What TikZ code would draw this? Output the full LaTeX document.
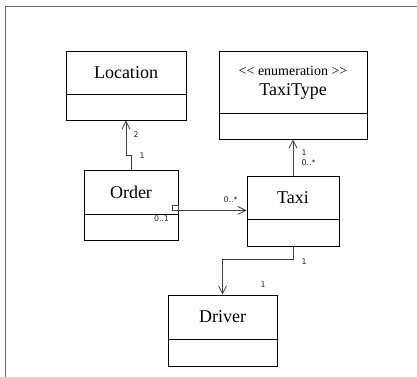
\documentclass[tikz,border=0pt]{standalone}
\usepackage{fontspec}
\setmainfont{Liberation Serif}
\newfontfamily\lblfont{DejaVu Sans}
\usetikzlibrary{arrows.meta}
\begin{document}
\begin{tikzpicture}[x=1pt,y=-1pt,
  cls/.style={draw=black, line width=0.8pt, inner sep=0pt},
  divider/.style={draw=black, line width=0.8pt},
  title/.style={font=\fontsize{18}{20}\selectfont, inner sep=0pt},
  stereo/.style={font=\fontsize{14}{16}\selectfont, inner sep=0pt},
  assoc/.style={draw=black!75, line width=0.8pt, -{Straight Barb[length=8pt,width=8pt]}},
  mult/.style={font=\lblfont\fontsize{7.8}{8}\selectfont, text=black!85, inner sep=1pt},
  qualbox/.style={draw=black!75, line width=0.8pt, fill=white, minimum width=6pt, minimum height=5pt, inner sep=0pt},
  framebox/.style={draw=black!60, line width=1.5pt}
]
\useasboundingbox (0,0) rectangle (417,376);
\fill[white] (0,0) rectangle (417,376);
\draw[framebox] (5.5,377) -- (5.5,6.5) -- (418,6.5);

% Location
\node[cls, minimum width=120pt, minimum height=69pt] (loc) at (126,85.5) {};
\draw[divider] (loc.west |- 0,94) -- (loc.east |- 0,94);
\node[title] (locname) at (126,72.5) {Location};

% TaxiType
\node[cls, minimum width=148pt, minimum height=88pt] (tt) at (293,95) {};
\draw[divider] (tt.west |- 0,113) -- (tt.east |- 0,113);
\node[stereo] (ttst) at (293,71) {<\kern0pt< enumeration >\kern0pt>};
\node[title] (ttname) at (293,91.5) {TaxiType};

% Order
\node[cls, minimum width=94pt, minimum height=70pt] (ord) at (131,205) {};
\draw[divider] (ord.west |- 0,214) -- (ord.east |- 0,214);
\node[title] (ordname) at (131,192) {Order};

% Taxi
\node[cls, minimum width=92pt, minimum height=70pt] (taxi) at (293,211) {};
\draw[divider] (taxi.west |- 0,219) -- (taxi.east |- 0,219);
\node[title] (taxiname) at (293,197.5) {Taxi};

% Driver
\node[cls, minimum width=109pt, minimum height=71pt] (drv) at (222.5,330.5) {};
\draw[divider] (drv.west |- 0,339) -- (drv.east |- 0,339);
\node[title] (drvname) at (222.5,317) {Driver};

% Order -> Location
\draw[assoc] (ord.north) -- ++(0,-14) -| (loc.south);
\node[mult] (m1) at (136,135) {2};
\node[mult] (m2) at (142,156) {1};

% Order -> Taxi
\node[qualbox] (qual) at (175,207.5) {};
\draw[assoc] (qual.south east) -- (qual.south east -| taxi.west);
\node[mult, fill=white] (m3) at (161.5,218.5) {0..1};
\node[mult] (m4) at (230.5,199.5) {0..*};

% Taxi -> TaxiType
\draw[assoc] (taxi.north) -- (tt.south);
\node[mult, anchor=west] (m5) at (300.5,153) {1};
\node[mult, anchor=west] (m6) at (300.5,163) {0..*};

% Taxi -> Driver
\draw[assoc] (taxi.south) -- ++(0,13) -| (drv.north);
\node[mult] (m7) at (304,262) {1};
\node[mult] (m8) at (263,284.5) {1};
\end{tikzpicture}
\end{document}
